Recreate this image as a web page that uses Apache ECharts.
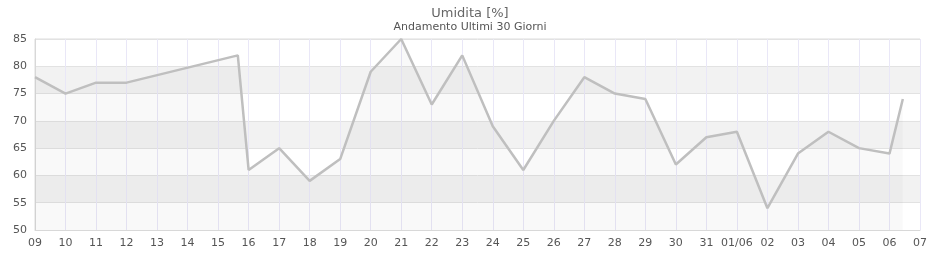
<!DOCTYPE html>
<html>
<head>
<meta charset="utf-8">
<script src="https://cdn.jsdelivr.net/npm/echarts@6/dist/echarts.min.js"></script>
<style>html,body{margin:0;padding:0;background:#fff;}#c{width:940px;height:260px;}</style>
</head>
<body>
<div id="c"></div>
<script>
var startDate = '2024-05-09T00:00:00';
var tickLabels = ['09','10','11','12','13','14','15','16','17','18','19','20','21','22','23','24','25','26','27','28','29','30','31','01/06','02','03','04','05','06','07'];
var times = ['2024-05-09T00:00:00','2024-05-10T00:00:00','2024-05-11T00:00:00','2024-05-12T00:00:00','2024-05-15T15:30:00','2024-05-16T00:00:00','2024-05-17T00:00:00','2024-05-18T00:00:00','2024-05-19T00:00:00','2024-05-20T00:00:00','2024-05-21T00:00:00','2024-05-22T00:00:00','2024-05-23T00:00:00','2024-05-24T00:00:00','2024-05-25T00:00:00','2024-05-26T00:00:00','2024-05-27T00:00:00','2024-05-28T00:00:00','2024-05-29T00:00:00','2024-05-30T00:00:00','2024-05-31T00:00:00','2024-06-01T00:00:00','2024-06-02T00:00:00','2024-06-03T00:00:00','2024-06-04T00:00:00','2024-06-05T00:00:00','2024-06-06T00:00:00','2024-06-06T10:30:00'];
var humidity = [78,75,77,77,82,61,65,59,63,79,85,73,82,69,61,70,78,75,74,62,67,68,54,64,68,65,64,74];
var yMin = 50, yMax = 85, yStep = 5;

var t0 = Date.parse(startDate);
var seriesData = times.map(function(t, i){ return [(Date.parse(t) - t0) / 86400000, humidity[i]]; });

var chart = echarts.init(document.getElementById('c'), null, {renderer:'canvas'});
chart.setOption({
  animation: false,
  backgroundColor: '#ffffff',
  textStyle: {fontFamily: 'DejaVu Sans'},
  title: {
    text: 'Umidita [%]',
    subtext: 'Andamento Ultimi 30 Giorni',
    left: 'center',
    top: 2,
    itemGap: 2,
    textStyle: {fontFamily: 'DejaVu Sans', fontSize: 13, fontWeight: 'normal', color: '#666'},
    subtextStyle: {fontFamily: 'DejaVu Sans', fontSize: 11, color: '#555'}
  },
  grid: {left: 35, right: 20, top: 39, bottom: 30, show: true, borderColor: '#dcdcdc', borderWidth: 1},
  xAxis: {
    type: 'value',
    min: 0,
    max: tickLabels.length - 1,
    interval: 1,
    axisLine: {show: true, lineStyle: {color: '#d8d8d8'}},
    axisTick: {show: false},
    axisLabel: {color: '#555', fontSize: 11, fontFamily: 'DejaVu Sans', margin: 8,
      formatter: function(v){ return tickLabels[Math.round(v)] || ''; }},
    splitLine: {show: true, lineStyle: {color: '#e9e7f7', width: 1}}
  },
  yAxis: {
    type: 'value',
    min: yMin,
    max: yMax,
    interval: yStep,
    axisLine: {show: true, lineStyle: {color: '#d8d8d8'}},
    axisTick: {show: false},
    axisLabel: {color: '#555', fontSize: 11, fontFamily: 'DejaVu Sans', margin: 8},
    splitLine: {show: true, lineStyle: {color: '#e2e2e2', width: 1}},
    splitArea: {show: true, areaStyle: {color: ['#ffffff', '#f2f2f2']}}
  },
  series: [{
    type: 'line',
    data: seriesData,
    showSymbol: false,
    symbol: 'none',
    lineStyle: {color: '#bfbfbf', width: 2.5},
    areaStyle: {color: 'rgba(0,0,0,0.03)', origin: 'start'},
    z: 3
  }]
});
</script>
</body>
</html>
